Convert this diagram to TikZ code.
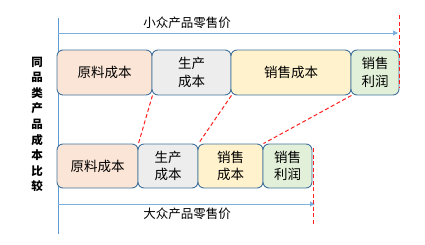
\documentclass[tikz,border=0pt]{standalone}
\usepackage{fontspec}
\setmainfont{Noto Sans CJK SC}
\usetikzlibrary{arrows.meta}
\definecolor{boxline}{HTML}{41719C}
\definecolor{axisblue}{HTML}{5B9BD5}
\definecolor{rawfill}{HTML}{FBE5D6}
\definecolor{prodfill}{HTML}{EDEDED}
\definecolor{salefill}{HTML}{FFF2CC}
\definecolor{profitfill}{HTML}{E2F0D9}
\definecolor{linkred}{HTML}{FF2020}
\tikzset{
  costbox/.style={draw=boxline, line width=0.9pt, rounded corners=6pt, align=center, inner sep=0pt, font=\fontsize{13.5}{17.5}\selectfont},
  raw/.style={costbox, fill=rawfill},
  prod/.style={costbox, fill=prodfill},
  sale/.style={costbox, fill=salefill},
  profit/.style={costbox, fill=profitfill},
  priceline/.style={axisblue!80, line width=0.9pt, -{Triangle[length=5pt, width=5pt]}},
  linkline/.style={linkred, dash pattern=on 4pt off 2.5pt, line width=1pt},
  pricetext/.style={font=\fontsize{12.5}{15}\selectfont}
}

\begin{document}
\begin{tikzpicture}[x=1pt, y=-1pt]
  \useasboundingbox (0,0) rectangle (425,244);

  % axis
  \coordinate (axistop) at (58,18);
  \coordinate (axisbot) at (58,234);
  \draw[axisblue, line width=0.8pt] (axistop) -- (axisbot);
  \node[font=\bfseries\fontsize{11.5}{15.6}\selectfont, align=center] (title) at (37,124.5)
    {同\\品\\类\\产\\品\\成\\本\\比\\较};

  % top row
  \node[raw, minimum width=95pt, minimum height=45pt] (t1) at (104.5,72.5) {原料成本};
  \node[prod, minimum width=79pt, minimum height=45pt] (t2) at (191.5,72.5) {生产\\成本};
  \node[sale, minimum width=120pt, minimum height=45pt] (t3) at (291,72.5) {销售成本};
  \node[profit, minimum width=48pt, minimum height=45pt] (t4) at (375,72.5) {销售\\利润};

  % bottom row
  \node[raw, minimum width=81pt, minimum height=44pt] (b1) at (97.5,166) {原料成本};
  \node[prod, minimum width=60pt, minimum height=44pt] (b2) at (168,166) {生产\\成本};
  \node[sale, minimum width=65pt, minimum height=44pt] (b3) at (230.5,166) {销售\\成本};
  \node[profit, minimum width=49pt, minimum height=44pt] (b4) at (287.5,166) {销售\\利润};

  % prices
  \coordinate (topstart) at (58,33);
  \coordinate (topend) at (398,33);
  \draw[priceline] (topstart) -- (topend);
  \node[pricetext] (toplabel) at (187,22.5) {小众产品零售价};
  \coordinate (botstart) at (58,204);
  \coordinate (botend) at (315,204);
  \draw[priceline] (botstart) -- (botend);
  \node[pricetext] (botlabel) at (187,213.5) {大众产品零售价};

  % links
  \coordinate (topmark1) at (399.5,15);
  \coordinate (topmark2) at (399.5,88);
  \coordinate (botmark1) at (313.5,148);
  \coordinate (botmark2) at (313.5,224);
  \draw[linkline] (topmark1) -- (topmark2);
  \draw[linkline] (botmark1) -- (botmark2);
  \draw[linkline] (t1.south east) -- (b1.north east);
  \draw[linkline] (t2.south east) -- (b2.north east);
  \draw[linkline] (t3.south east) -- (b3.north east);
\end{tikzpicture}
\end{document}
